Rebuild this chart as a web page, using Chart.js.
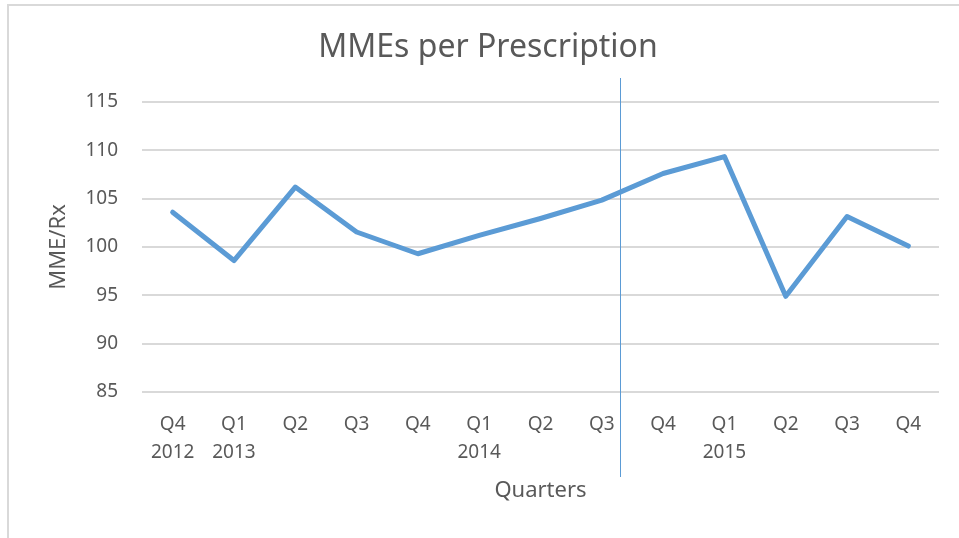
<!DOCTYPE html>
<html>
<head>
<meta charset="utf-8">
<script src="https://cdn.jsdelivr.net/npm/chart.js@4.4.0/dist/chart.umd.min.js"></script>
<style>
  html, body { margin: 0; padding: 0; background: #fff; overflow: hidden; }
  #frame { position: absolute; left: 7px; top: 4px; width: 1000px; height: 600px;
           border-left: 2px solid #d9d9d9; border-top: 2px solid #d9d9d9; }
  #wrap { position: absolute; left: 0; top: 0; width: 975px; height: 538px; }
</style>
</head>
<body>
<div id="frame"></div>
<div id="wrap"><canvas id="chart"></canvas></div>
<script>
// data
const quarters = ["Q4", "Q1", "Q2", "Q3", "Q4", "Q1", "Q2", "Q3", "Q4", "Q1", "Q2", "Q3", "Q4"];
const years = ["2012", "2013", "", "", "", "2014", "", "", "", "2015", "", "", ""];
const mmePerRx = [103.6, 98.6, 106.2, 101.55, 99.3, 101.2, 102.95, 104.85, 107.6, 109.35, 94.9, 103.15, 100.1];
const yTicks = [85, 90, 95, 100, 105, 110, 115];
const dividerAt = 7.3; // category position of the vertical marker line

const labels = quarters.map((q, i) => (years[i] ? [q, years[i]] : q));

const textColor = "#595959";
const fontFamily = "'Noto Sans', 'Open Sans', sans-serif";

const dividerPlugin = {
    id: "divider",
    beforeDatasetsDraw(chart) {
        const { ctx, chartArea, scales } = chart;
        const px = Math.round(scales.x.getPixelForValue(dividerAt)) + 0.5;
        ctx.save();
        ctx.strokeStyle = "#5b9bd5";
        ctx.lineWidth = 1;
        ctx.beginPath();
        ctx.moveTo(px, chartArea.top - 24);
        ctx.lineTo(px, chartArea.bottom + 85);
        ctx.stroke();
        ctx.restore();
    },
};

new Chart(document.getElementById("chart"), {
    type: "line",
    data: {
        labels: labels,
        datasets: [{
            label: "MME/Rx",
            data: mmePerRx,
            borderColor: "#5b9bd5",
            borderWidth: 5,
            borderJoinStyle: "round",
            borderCapStyle: "round",
            pointRadius: 0,
            tension: 0,
            fill: false,
        }],
    },
    options: {
        responsive: true,
        maintainAspectRatio: false,
        animation: false,
        layout: { padding: { top: 14, right: 36, bottom: 0, left: 37 } },
        plugins: {
            legend: { display: false },
            tooltip: { enabled: false },
            title: {
                display: true,
                text: "MMEs per Prescription",
                color: textColor,
                font: { family: fontFamily, size: 32, weight: "normal", lineHeight: 1.2 },
                padding: { top: 15, bottom: 34.6 },
            },
        },
        scales: {
            x: {
                offset: true,
                afterFit(scale) { scale.height = 146; },
                grid: { display: false, drawTicks: false },
                border: { display: false },
                ticks: {
                    color: textColor,
                    padding: 18,
                    maxRotation: 0,
                    autoSkip: false,
                    font: { family: fontFamily, size: 19, lineHeight: 1.5 },
                },
                title: {
                    display: true,
                    text: "Quarters",
                    color: textColor,
                    font: { family: fontFamily, size: 22, lineHeight: 1.2 },
                    padding: { top: 0, bottom: 34 },
                },
            },
            y: {
                min: 85,
                max: 115,
                afterFit(scale) { scale.width = 105; },
                afterBuildTicks(scale) { scale.ticks = yTicks.map((v) => ({ value: v })); },
                grid: { color: "#d9d9d9", lineWidth: 2, drawTicks: false },
                border: { display: false },
                ticks: {
                    color: textColor,
                    padding: 24,
                    font: { family: fontFamily, size: 19 },
                },
                title: {
                    display: true,
                    text: "MME/Rx",
                    color: textColor,
                    font: { family: fontFamily, size: 22, lineHeight: 1.2 },
                    padding: { top: 9, bottom: 0 },
                },
            },
        },
    },
    plugins: [dividerPlugin],
});
</script>
</body>
</html>
